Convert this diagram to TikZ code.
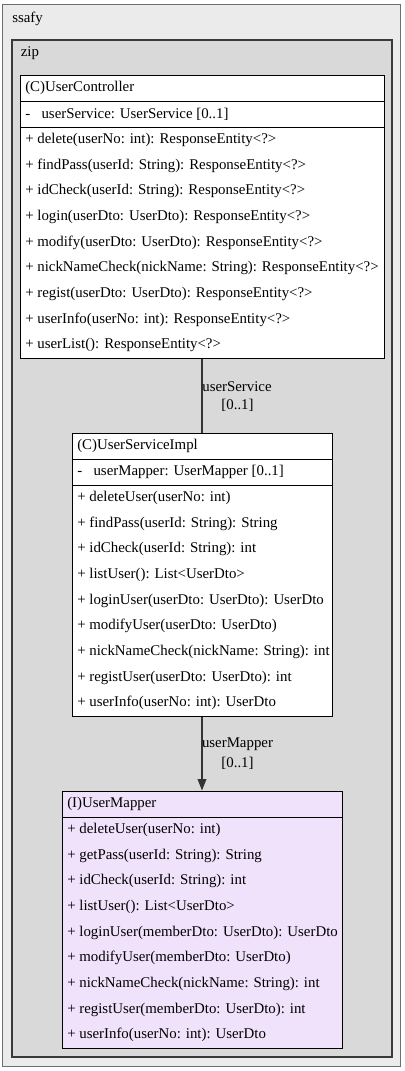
\documentclass[tikz,border=0pt]{standalone}
\usepackage{fontspec}
\setmainfont{Liberation Serif}
\usetikzlibrary{shadows,arrows.meta,fit}
\definecolor{pkgouterfill}{HTML}{EBEBEB}
\definecolor{pkgouterdraw}{HTML}{6E6E6E}
\definecolor{pkginnerfill}{HTML}{D9D9D9}
\definecolor{pkginnerdraw}{HTML}{3A3A3A}
\definecolor{ifacefill}{HTML}{F1E2FB}
\definecolor{linkcol}{HTML}{333333}
\begin{document}
\begin{tikzpicture}[x=0.75pt,y=-0.75pt,
  font=\fontsize{11.15}{12}\selectfont,
  pkgbox/.style={rectangle,inner sep=0pt,line width=0.8pt},
  classbox/.style={rectangle,inner sep=0pt,draw=black,line width=0.75pt,
     drop shadow={shadow xshift=1.1pt,shadow yshift=-1.1pt,fill=black!30,opacity=0.6}},
  txt/.style={anchor=west,inner sep=0pt},
  lbl/.style={inner sep=0pt},
  sep/.style={draw=black,line width=0.75pt},
  link/.style={draw=linkcol,line width=1pt}]
\useasboundingbox (0,0) rectangle (404,1071);
% packages
\node[pkgbox,draw=pkgouterdraw,fill=pkgouterfill,fit={(2.5,4.5) (400.5,1066.5)}] (ssafy) {};
\node[txt] (ssafylbl) at (12,18.5) {ssafy};
\node[pkgbox,draw=pkginnerdraw,fill=pkginnerfill,fit={(12,40) (392,1057)}] (zip) {};
\node[txt] (ziplbl) at (20.5,53.5) {zip};
% UserController
\node[classbox,fill=white,fit={(20,75) (384,358)}] (uc) {};
\draw[sep] (uc.west |- 0,101) -- (uc.east |- 0,101);
\draw[sep] (uc.west |- 0,127) -- (uc.east |- 0,127);
\node[txt] (uch) at (25,88) {(C)UserController};
\node[txt] (uca) at (25,114) {-\hspace{8.5pt}userService: UserService [0..1]};
\foreach \t [count=\i] in {
  + delete(userNo: int): ResponseEntity<?>,
  + findPass(userId: String): ResponseEntity<?>,
  + idCheck(userId: String): ResponseEntity<?>,
  + login(userDto: UserDto): ResponseEntity<?>,
  + modify(userDto: UserDto): ResponseEntity<?>,
  + nickNameCheck(nickName: String): ResponseEntity<?>,
  + regist(userDto: UserDto): ResponseEntity<?>,
  + userInfo(userNo: int): ResponseEntity<?>,
  + userList(): ResponseEntity<?>}
  \node[txt] (ucm\i) at (25,{127+25.67*(\i-0.5)}) {\t};
% UserServiceImpl
\node[classbox,fill=white,fit={(72,433) (332,716)}] (usi) {};
\draw[sep] (usi.west |- 0,459) -- (usi.east |- 0,459);
\draw[sep] (usi.west |- 0,485) -- (usi.east |- 0,485);
\node[txt] (usih) at (77,446) {(C)UserServiceImpl};
\node[txt] (usia) at (77,472) {-\hspace{8.5pt}userMapper: UserMapper [0..1]};
\foreach \t [count=\i] in {
  + deleteUser(userNo: int),
  + findPass(userId: String): String,
  + idCheck(userId: String): int,
  + listUser(): List<UserDto>,
  + loginUser(userDto: UserDto): UserDto,
  + modifyUser(userDto: UserDto),
  + nickNameCheck(nickName: String): int,
  + registUser(userDto: UserDto): int,
  + userInfo(userNo: int): UserDto}
  \node[txt] (usim\i) at (77,{485+25.67*(\i-0.5)}) {\t};
% UserMapper
\node[classbox,fill=ifacefill,fit={(62,791) (342,1048)}] (um) {};
\draw[sep] (um.west |- 0,817) -- (um.east |- 0,817);
\node[txt] (umh) at (67,804) {(I)UserMapper};
\foreach \t [count=\i] in {
  + deleteUser(userNo: int),
  + getPass(userId: String): String,
  + idCheck(userId: String): int,
  + listUser(): List<UserDto>,
  + loginUser(memberDto: UserDto): UserDto,
  + modifyUser(memberDto: UserDto),
  + nickNameCheck(nickName: String): int,
  + registUser(memberDto: UserDto): int,
  + userInfo(userNo: int): UserDto}
  \node[txt] (umm\i) at (67,{817+25.67*(\i-0.5)}) {\t};
% connectors
\draw[link] (uc.south) -- (usi.north);
\node[lbl] (l1a) at (237,387) {userService};
\node[lbl] (l1b) at (237.5,405) {[0..1]};
\draw[link,-{Triangle[length=8.5pt,width=6.5pt]}] (usi.south) -- (um.north);
\node[lbl] (l2a) at (237.5,744) {userMapper};
\node[lbl] (l2b) at (237.5,763) {[0..1]};
\end{tikzpicture}
\end{document}
